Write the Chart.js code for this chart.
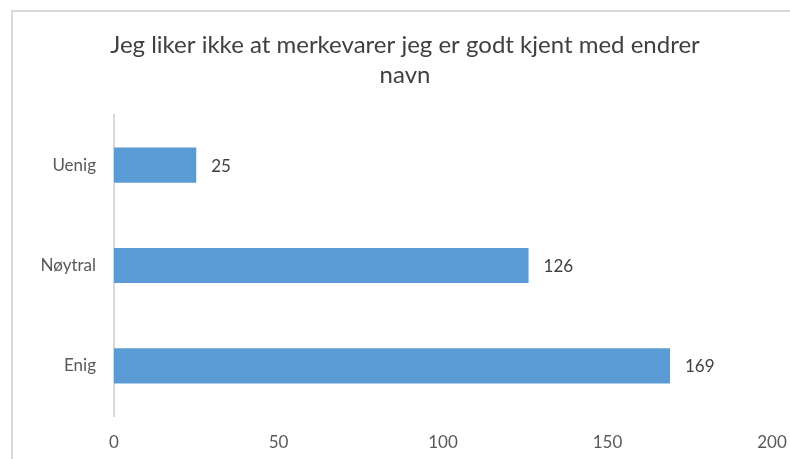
<!DOCTYPE html>
<html>
<head>
<meta charset="utf-8">
<script src="https://cdn.jsdelivr.net/npm/chart.js@4/dist/chart.umd.min.js"></script>
<style>
  html, body { margin: 0; padding: 0; background: #ffffff; }
  #wrap { position: relative; width: 790px; height: 459px; }
  #frame {
    position: absolute; left: 11px; top: 10px; right: -2px; bottom: -2px;
    border-top: 2px solid #d9d9d9; border-left: 2px solid #d9d9d9;
    pointer-events: none;
  }
  canvas { position: absolute; left: 0; top: 0; }
</style>
</head>
<body>
<div id="wrap">
  <canvas id="chart" width="790" height="459"></canvas>
  <div id="frame"></div>
</div>
<script>
// Survey answers and how many respondents chose each
const categories = ['Uenig', 'Nøytral', 'Enig'];
const counts = [25, 126, 169];
const xTicks = [0, 50, 100, 150, 200];
const titleLines = ['Jeg liker ikke at merkevarer jeg er godt kjent med endrer', 'navn'];

const FONT = 'Lato, "Open Sans", sans-serif';

// Writes each bar's value just past its end
const valueLabels = {
  id: 'valueLabels',
  afterDatasetsDraw(chart) {
    const { ctx } = chart;
    const meta = chart.getDatasetMeta(0);
    ctx.save();
    ctx.font = '17px ' + FONT;
    ctx.fillStyle = '#404040';
    ctx.textAlign = 'left';
    ctx.textBaseline = 'middle';
    meta.data.forEach((bar, i) => {
      ctx.fillText(String(counts[i]), bar.x + 15, bar.y + 1);
    });
    ctx.restore();
  }
};

new Chart(document.getElementById('chart'), {
  type: 'bar',
  data: {
    labels: categories,
    datasets: [{
      data: counts,
      backgroundColor: '#5b9bd5',
      borderWidth: 0,
      barPercentage: 0.35,
      categoryPercentage: 1.0
    }]
  },
  options: {
    indexAxis: 'y',
    responsive: false,
    animation: false,
    layout: { padding: { left: 38, right: 18, top: 0, bottom: 0 } },
    plugins: {
      legend: { display: false },
      tooltip: { enabled: false },
      title: {
        display: true,
        text: titleLines,
        color: '#404040',
        font: { family: FONT, size: 24, weight: 'normal', lineHeight: 1.25 },
        padding: { top: 30, bottom: 25 }
      }
    },
    scales: {
      x: {
        min: xTicks[0],
        max: xTicks[xTicks.length - 1],
        afterBuildTicks(scale) { scale.ticks = xTicks.map(v => ({ value: v })); },
        afterFit(scale) {
          scale.height = 43;
          scale.paddingLeft = 0;
          scale.paddingRight = 0;
        },
        grid: { display: false },
        border: { display: false },
        ticks: { color: '#595959', font: { family: FONT, size: 17 }, padding: 8 }
      },
      y: {
        afterFit(scale) {
          scale.width = 76;
          scale.paddingTop = 0;
          scale.paddingBottom = 0;
        },
        grid: { display: false, drawTicks: false },
        border: { display: true, color: '#d9d9d9', width: 2 },
        ticks: { color: '#595959', font: { family: FONT, size: 17 }, padding: 18 }
      }
    }
  },
  plugins: [valueLabels]
});
</script>
</body>
</html>
